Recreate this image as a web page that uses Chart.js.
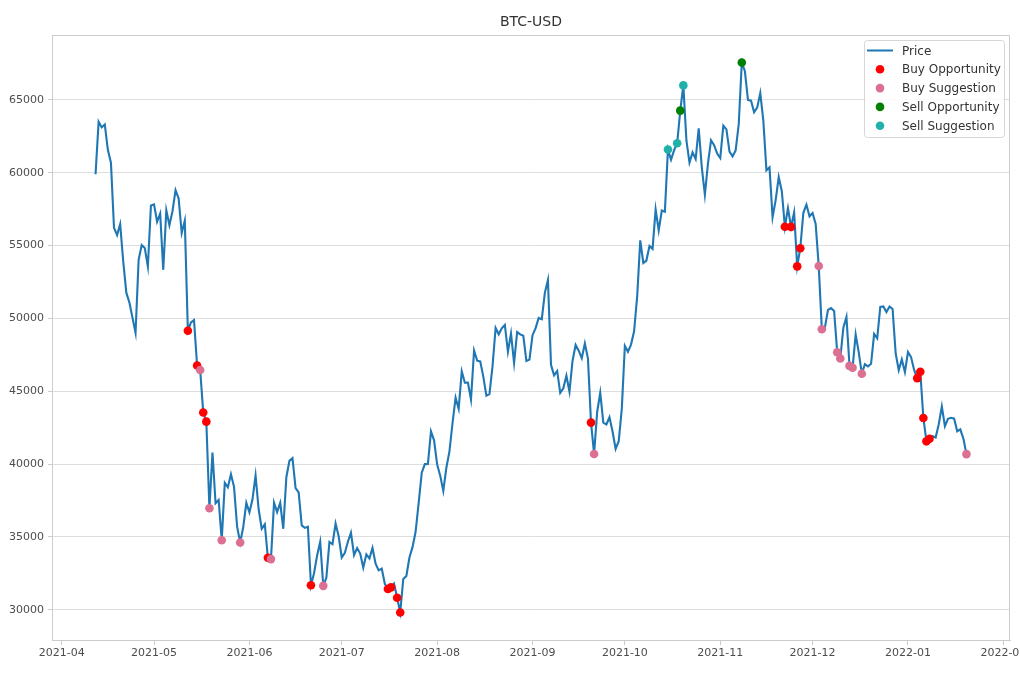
<!DOCTYPE html>
<html lang="en">
<head>
<meta charset="UTF-8">
<title>BTC-USD</title>
<script src="https://cdn.jsdelivr.net/npm/chart.js"></script>
<style>
  body { margin: 0; background: #fff; }
  #wrap { width: 1020px; height: 680px; }
</style>
</head>
<body>
<div id="wrap"><canvas id="btcChart" width="1020" height="680"></canvas></div>
<script>
// daily close, one value per day starting at firstDay
const firstDay = '2021-04-12';
const prices = [
  // Apr 12 - Apr 30
  59893, 63503, 63110, 63314, 61572, 60683, 56216, 55724, 56474, 53906,
  51763, 51093, 50050, 49004, 54021, 55033, 54824, 53555, 57750,
  // May
  57828, 56631, 57200, 53333, 57424, 56396, 57356, 58803, 58232, 55859,
  56704, 49150, 49716, 49880, 46760, 46456, 43538, 42909, 36964, 40784,
  37304, 37536, 34770, 38705, 38402, 39294, 38436, 35698, 34616, 35678, 37333,
  // Jun
  36684, 37575, 39208, 36895, 35551, 35862, 33560, 33472, 37345, 36702,
  37334, 35553, 39097, 40218, 40406, 38347, 38053, 35787, 35615, 35698,
  31676, 32505, 33724, 34663, 31637, 32186, 34650, 34494, 35912, 35041,
  // Jul
  33573, 33897, 34668, 35287, 33747, 34235, 33855, 32877, 33799, 33520,
  34240, 33155, 32702, 32822, 31781, 31421, 31533, 31796, 30817, 29807,
  32110, 32314, 33581, 34292, 35350, 37337, 39406, 39995, 40008, 42236, 41626,
  // Aug
  39974, 39201, 38152, 39747, 40870, 42816, 44556, 43798, 46366, 45585,
  45593, 44428, 47793, 47096, 47047, 46004, 44695, 44801, 46717, 49339,
  48905, 49321, 49546, 47706, 48960, 46942, 49058, 48897, 48806, 47074, 47166,
  // Sep
  48847, 49327, 50025, 49944, 51753, 52633, 46811, 46091, 46391, 44883,
  45201, 46063, 44963, 47092, 48176, 47783, 47267, 48278, 47260, 42843,
  40693, 43574, 44896, 42840, 42716, 43208, 42235, 41034, 41564, 43790,
  // Oct
  48116, 47711, 48199, 49112, 51514, 55361, 53805, 53967, 54968, 54771,
  57484, 56041, 57401, 57321, 61593, 60892, 61553, 62026, 64262, 65993,
  62210, 60692, 61393, 60937, 63039, 60364, 58482, 60622, 62228, 61888, 61318,
  // Nov
  61004, 63226, 62970, 61452, 61125, 61527, 63326, 67566, 66971, 64995,
  64949, 64155, 64469, 65466, 63557, 60161, 60368, 56942, 58119, 59697,
  58730, 56289, 57569, 56281, 57274, 53570, 54815, 57248, 57806, 57005,
  // Dec
  57229, 56477, 53598, 49253, 49368, 50582, 50701, 50504, 47672, 47243,
  49362, 50098, 46737, 46612, 48896, 47666, 46203, 46849, 46707, 46880,
  48936, 48629, 50784, 50822, 50429, 50809, 50640, 47588, 46444, 47178, 46306,
  // Jan 1 - Jan 20
  47686, 47345, 46458, 45897, 46330, 43160, 41558, 41734, 41912, 41822,
  42736, 43949, 42592, 43100, 43177, 43114, 42250, 42375, 41744, 40680
];

const buyOpportunityDays = [
  '2021-05-12', '2021-05-15', '2021-05-17', '2021-05-18', '2021-06-07',
  '2021-06-21', '2021-07-16', '2021-07-17', '2021-07-19', '2021-07-20',
  '2021-09-20', '2021-11-22', '2021-11-24', '2021-11-26', '2021-11-27',
  '2022-01-04', '2022-01-05', '2022-01-06', '2022-01-07', '2022-01-08'
];
const buySuggestionDays = [
  '2021-05-16', '2021-05-19', '2021-05-23', '2021-05-29', '2021-06-08',
  '2021-06-25', '2021-09-21', '2021-12-03', '2021-12-04', '2021-12-09',
  '2021-12-10', '2021-12-13', '2021-12-14', '2021-12-17', '2022-01-20'
];
const sellOpportunityDays = ['2021-10-19', '2021-11-08'];
const sellSuggestionDays = ['2021-10-15', '2021-10-18', '2021-10-20'];

const monthTicks = ['2021-04', '2021-05', '2021-06', '2021-07', '2021-08', '2021-09',
                    '2021-10', '2021-11', '2021-12', '2022-01', '2022-02'];
const yTicks = [30000, 35000, 40000, 45000, 50000, 55000, 60000, 65000];

const DAY = 86400000;
function dayNum(s) {
    if (s.length === 7) s = s + '-01';
    return Math.round(Date.parse(s) / DAY);
}
const start = dayNum(firstDay);
const priceData = prices.map((p, i) => ({ x: start + i, y: p }));
function signalPoints(days) {
    return days.map(d => {
        const i = dayNum(d) - start;
        return { x: start + i, y: prices[i] };
    });
}

// 5% margins like the original plot
const xSpan = prices.length - 1;
const xMin = start - xSpan * 0.05;
const xMax = start + xSpan + xSpan * 0.05;
const pMin = Math.min(...prices), pMax = Math.max(...prices);
const yMin = pMin - (pMax - pMin) * 0.05;
const yMax = pMax + (pMax - pMin) * 0.05;

const FONT = "'DejaVu Sans', sans-serif";

const extrasPlugin = {
    id: 'extras',
    afterDraw(chart) {
        const ctx = chart.ctx;
        const a = chart.chartArea;
        ctx.save();
        // frame top + right
        ctx.strokeStyle = '#cccccc';
        ctx.lineWidth = 1;
        ctx.beginPath();
        ctx.moveTo(Math.round(a.left) + 0.5, Math.round(a.top) + 0.5);
        ctx.lineTo(Math.round(a.right) - 0.5, Math.round(a.top) + 0.5);
        ctx.lineTo(Math.round(a.right) - 0.5, Math.round(a.bottom) + 0.5);
        ctx.stroke();

        // title
        ctx.fillStyle = '#333333';
        ctx.font = '14px ' + FONT;
        ctx.textAlign = 'center';
        ctx.textBaseline = 'middle';
        ctx.fillText('BTC-USD', (a.left + a.right) / 2, 22);

        // legend
        const bw = 140, bh = 97;
        const bx = a.right - bw - 6, by = a.top + 5;
        ctx.fillStyle = 'rgba(255,255,255,0.85)';
        ctx.strokeStyle = '#d6d6d6';
        ctx.beginPath();
        ctx.roundRect(bx + 0.5, by + 0.5, bw, bh, 3);
        ctx.fill();
        ctx.stroke();
        ctx.font = '12px ' + FONT;
        ctx.textAlign = 'left';
        chart.data.datasets.forEach((ds, i) => {
            const cy = by + 10.5 + i * 18.8;
            if (ds.type === 'line') {
                ctx.strokeStyle = ds.borderColor;
                ctx.lineWidth = 2;
                ctx.beginPath();
                ctx.moveTo(bx + 3, cy);
                ctx.lineTo(bx + 29, cy);
                ctx.stroke();
            } else {
                ctx.fillStyle = ds.backgroundColor;
                ctx.beginPath();
                ctx.arc(bx + 16, cy, 4.3, 0, Math.PI * 2);
                ctx.fill();
            }
            ctx.fillStyle = '#333333';
            ctx.fillText(ds.label, bx + 38, cy + 1);
        });
        ctx.restore();
    }
};

const tickFont = { family: FONT, size: 11 };

new Chart(document.getElementById('btcChart'), {
    type: 'scatter',
    data: {
        datasets: [
            { type: 'line', label: 'Price', data: priceData, borderColor: '#1f77b4',
              borderWidth: 2.1, pointRadius: 0, tension: 0, fill: false, order: 5 },
            { label: 'Buy Opportunity', data: signalPoints(buyOpportunityDays),
              backgroundColor: '#ff0000', pointRadius: 4.3, borderWidth: 0, order: 4 },
            { label: 'Buy Suggestion', data: signalPoints(buySuggestionDays),
              backgroundColor: '#db7093', pointRadius: 4.3, borderWidth: 0, order: 3 },
            { label: 'Sell Opportunity', data: signalPoints(sellOpportunityDays),
              backgroundColor: '#008000', pointRadius: 4.3, borderWidth: 0, order: 2 },
            { label: 'Sell Suggestion', data: signalPoints(sellSuggestionDays),
              backgroundColor: '#20b2aa', pointRadius: 4.3, borderWidth: 0, order: 1 }
        ]
    },
    options: {
        responsive: false,
        animation: false,
        devicePixelRatio: 1,
        layout: { padding: { top: 35, right: 10, left: 0, bottom: 0 } },
        plugins: {
            legend: { display: false },
            tooltip: { enabled: false },
            title: { display: false }
        },
        scales: {
            x: {
                type: 'linear',
                min: xMin,
                max: xMax,
                afterBuildTicks: s => { s.ticks = monthTicks.map(m => ({ value: dayNum(m) })); },
                afterFit: s => { s.height = 40; s.paddingLeft = 0; s.paddingRight = 0; },
                grid: { display: true, drawOnChartArea: false, drawTicks: true, tickLength: 5, tickColor: '#cccccc' },
                border: { display: true, color: '#cccccc' },
                ticks: {
                    autoSkip: false, maxRotation: 0, minRotation: 0, padding: 2,
                    color: '#4d4d4d', font: tickFont,
                    callback: v => new Date(v * DAY).toISOString().slice(0, 7)
                }
            },
            y: {
                type: 'linear',
                min: yMin,
                max: yMax,
                afterBuildTicks: s => { s.ticks = yTicks.map(v => ({ value: v })); },
                afterFit: s => { s.width = 52; },
                grid: { color: '#dedede', lineWidth: 1, tickLength: 4, tickColor: '#cccccc' },
                border: { display: true, color: '#cccccc' },
                ticks: { padding: 4, color: '#4d4d4d', font: tickFont, callback: v => String(v) }
            }
        }
    },
    plugins: [extrasPlugin]
});
</script>
</body>
</html>
